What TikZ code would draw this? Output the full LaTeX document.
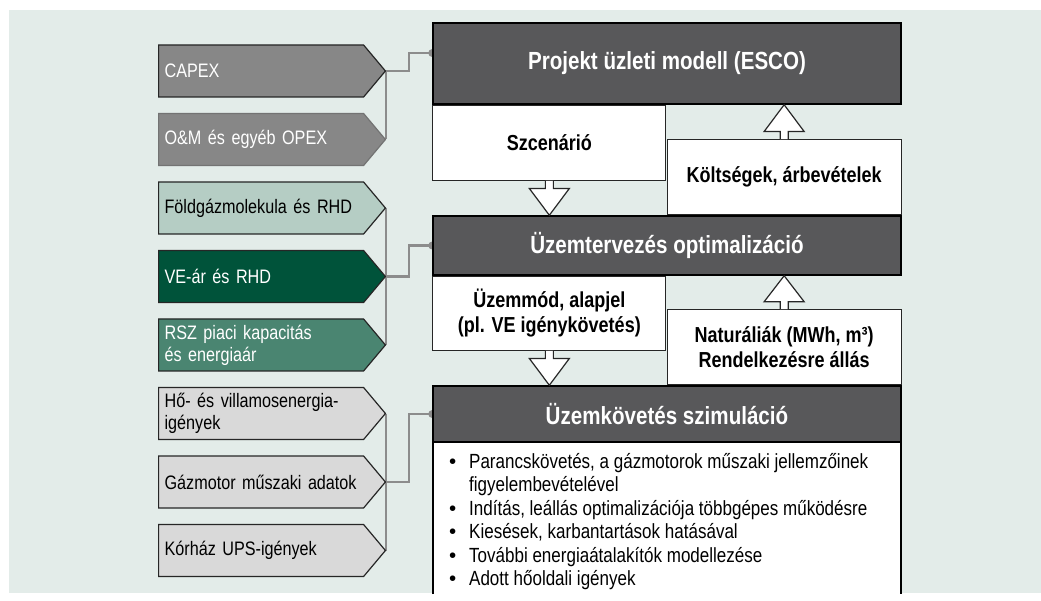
\documentclass[tikz,border=0pt]{standalone}
\usepackage{fontspec}
\setmainfont[FakeStretch=0.83]{Liberation Sans}
\newfontfamily\dotfont{Liberation Sans}
\usetikzlibrary{positioning, shapes.symbols, calc, backgrounds}

\definecolor{bgpanel}{HTML}{E3ECE9}
\definecolor{darkbox}{HTML}{58585A}
\definecolor{costgrey}{HTML}{878787}
\definecolor{gaslight}{HTML}{B5CDC4}
\definecolor{vedark}{HTML}{00533A}
\definecolor{rszmid}{HTML}{4A8571}
\definecolor{needgrey}{HTML}{D9D9D9}
\definecolor{buscol}{HTML}{8C8C8C}

\pgfdeclarelayer{backdrop}
\pgfsetlayers{backdrop,background,main}

% hollow block arrow between two box edges
\newcommand{\flowarrow}[2]{%
  \draw[flowarr] ($(#1)+(-4,0)$) -- ($(#1)!0.22!(#2)+(-4,0)$) -- ($(#1)!0.22!(#2)+(-20,0)$)
    -- (#2) -- ($(#1)!0.22!(#2)+(20,0)$) -- ($(#1)!0.22!(#2)+(4,0)$) -- ($(#1)+(4,0)$);}
\newcommand{\listdot}{{\dotfont\textbullet}}

\begin{document}
\begin{tikzpicture}[x=1pt, y=-1pt,
    inbox/.style={signal, signal to=east, signal pointer angle=100, draw=black!85, line width=1.2pt,
                  minimum height=52pt, text width=193pt, inner xsep=6pt, inner ysep=0pt, align=left,
                  font=\fontsize{19.5}{22}\selectfont},
    mainbox/.style={draw=black, line width=1.5pt, fill=darkbox, text=white, minimum width=468pt,
                    font=\bfseries\fontsize{24.8}{28}\selectfont},
    labelbox/.style={draw=black!85, line width=1.2pt, fill=white, align=center, inner sep=0pt,
                     font=\bfseries\fontsize{21.7}{25}\selectfont},
    flowarr/.style={draw=black!85, line width=1.2pt, fill=white, line join=miter},
    bus/.style={draw=buscol, line width=2.2pt},
    busdot/.style={circle, fill=buscol, inner sep=0pt, minimum size=8pt},
    ]
    \useasboundingbox (0,0) rectangle (1041,601);
    \begin{pgfonlayer}{backdrop}
      \fill[bgpanel] (9,10) rectangle (1041,593);
    \end{pgfonlayer}

    % input data on the left
    \node[inbox, fill=costgrey, text=white, anchor=west] (capex) at (158,71) {CAPEX};
    \node[inbox, fill=costgrey, draw=black!55, text=white, below=15.3pt of capex] (om) {O\&M és egyéb OPEX};
    \node[inbox, fill=gaslight, below=15.3pt of om] (gas) {Földgázmolekula és RHD};
    \node[inbox, fill=vedark, text=white, below=15.3pt of gas] (ve) {VE-ár és RHD};
    \node[inbox, fill=rszmid, text=white, below=15.3pt of ve] (rsz) {RSZ piaci kapacitás\\és energiaár};
    \node[inbox, fill=needgrey, below=15.3pt of rsz] (heat) {Hő- és villamosenergia-\\igények};
    \node[inbox, fill=needgrey, below=15.3pt of heat] (engine) {Gázmotor műszaki adatok};
    \node[inbox, fill=needgrey, below=15.3pt of engine] (ups) {Kórház UPS-igények};

    % model levels
    \node[mainbox, minimum height=81pt] (esco) at (667,63.5) {Projekt üzleti modell (ESCO)};
    \node[mainbox, minimum height=59pt] (opt) at (667,245.5) {Üzemtervezés optimalizáció};
    \node[mainbox, minimum height=56pt] (simhead) at (667,414) {Üzemkövetés szimuláció};
    \node[fill=white, minimum width=468pt, minimum height=151pt, inner sep=0pt, anchor=north] (simbody) at (simhead.south) {};
    \draw[black, line width=1.5pt] (simbody.south west) -- (simbody.north west)
      (simbody.north east) -- (simbody.south east);
    \node[anchor=north west, inner sep=0pt, font=\fontsize{20.5}{23.5}\selectfont] (simlist)
      at ([xshift=16pt, yshift=-9pt]simbody.north west) {%
      \begin{tabular}{@{}l@{\hspace{13pt}}l@{}}
        \listdot & Parancskövetés, a gázmotorok műszaki jellemzőinek\\
                 & figyelembevételével\\
        \listdot & Indítás, leállás optimalizációja többgépes működésre\\
        \listdot & Kiesések, karbantartások hatásával\\
        \listdot & További energiaátalakítók modellezése\\
        \listdot & Adott hőoldali igények
      \end{tabular}};

    % exchanged data between levels
    \node[labelbox, minimum width=233pt, minimum height=75pt, anchor=north west] (scen) at (esco.south west) {Szcenárió};
    \node[labelbox, minimum width=234pt, minimum height=75pt, anchor=south east] (cost) at (opt.north east) {Költségek, árbevételek};
    \node[labelbox, minimum width=233pt, minimum height=74pt, anchor=north west] (mode) at (opt.south west) {Üzemmód, alapjel\\(pl. VE igénykövetés)};
    \node[labelbox, minimum width=234pt, minimum height=75pt, anchor=south east] (nat) at (simhead.north east) {Naturáliák (MWh, m³)\\Rendelkezésre állás};

    \flowarrow{scen.south}{scen.south |- opt.north}
    \flowarrow{cost.north}{cost.north |- esco.south}
    \flowarrow{mode.south}{mode.south |- simhead.north}
    \flowarrow{nat.north}{nat.north |- opt.south}

    % buses from inputs to levels
    \begin{scope}[on background layer]
      \draw[bus] (capex.east) -- (om.east);
      \draw[bus] (capex.east) -- ++(23,0) |- ([yshift=10.5pt]esco.west) node[busdot] {};
      \draw[bus] (gas.east) -- (rsz.east);
      \draw[bus] (ve.east) -- ++(23,0) |- (opt.west) node[busdot] {};
      \draw[bus] (heat.east) -- (ups.east);
      \draw[bus] (engine.east) -- ++(23,0) |- (simhead.west) node[busdot] {};
    \end{scope}
\end{tikzpicture}
\end{document}
